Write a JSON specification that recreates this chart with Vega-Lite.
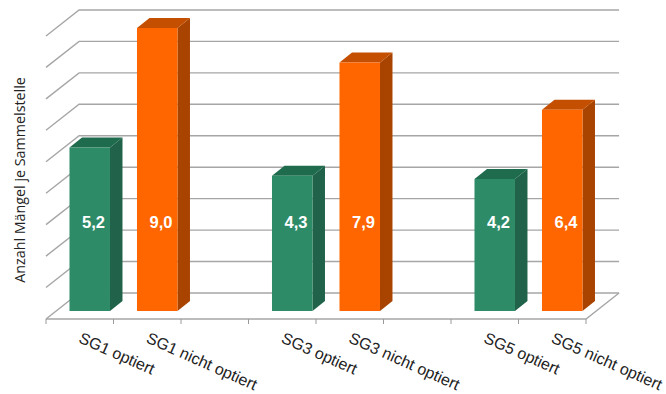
{
  "$schema": "https://vega.github.io/schema/vega-lite/v6.json",
  "width": 607.5,
  "height": 314.5,
  "autosize": "none",
  "padding": {"left": 46, "top": 4.5, "right": 12.5, "bottom": 75},
  "background": "white",
  "config": {"view": {"stroke": null}},
  "encoding": {
    "x": {"field": "x", "type": "quantitative", "scale": {"domain": [0, 9], "nice": false, "zero": false}, "axis": null},
    "y": {
      "field": "y",
      "type": "quantitative",
      "scale": {"domain": [0, 10], "nice": false, "zero": false},
      "axis": {
        "title": "Anzahl Mängel je Sammelstelle",
        "labels": false,
        "ticks": false,
        "domain": false,
        "grid": false,
        "titleFont": "Open Sans",
        "titleFontSize": 14.3,
        "titleFontWeight": "normal",
        "titleColor": "#222222",
        "titleX": -26,
        "titleY": 175,
        "titleAngle": 270,
        "titleAlign": "center",
        "titleBaseline": "middle"
      }
    }
  },
  "layer": [
    {
      "description": "Wall and side-wall gridlines at each level of the scale",
      "data": {"values": [{"level": 0}, {"level": 1}, {"level": 2}, {"level": 3}, {"level": 4}, {"level": 5}, {"level": 6}, {"level": 7}, {"level": 8}, {"level": 9}]},
      "transform": [
        {"calculate": "[0, 0.49, 8.49]", "as": "x"},
        {"calculate": "[datum.level, datum.level + 0.827, datum.level + 0.827]", "as": "y"},
        {"calculate": "[0, 1, 2]", "as": "step"},
        {"flatten": ["x", "y", "step"]}
      ],
      "mark": {"type": "line", "color": "#a6a6a6", "strokeWidth": 1.4, "interpolate": "linear"},
      "encoding": {"detail": {"field": "level"}, "order": {"field": "step", "type": "quantitative"}}
    },
    {
      "description": "Front and right edges of the floor",
      "data": {"values": [{"edge": "floor"}]},
      "transform": [
        {"calculate": "[0, 8, 8.49]", "as": "x"},
        {"calculate": "[0, 0, 0.827]", "as": "y"},
        {"calculate": "[0, 1, 2]", "as": "step"},
        {"flatten": ["x", "y", "step"]}
      ],
      "mark": {"type": "line", "color": "#a6a6a6", "strokeWidth": 1.4},
      "encoding": {"order": {"field": "step", "type": "quantitative"}}
    },
    {
      "description": "Category tick marks under the floor",
      "data": {"values": [{"x": 0}, {"x": 1}, {"x": 2}, {"x": 3}, {"x": 4}, {"x": 5}, {"x": 6}, {"x": 7}, {"x": 8}]},
      "transform": [
        {"calculate": "0", "as": "y"},
        {"calculate": "-0.16", "as": "y2"}
      ],
      "mark": {"type": "rule", "color": "#9a9a9a", "strokeWidth": 1},
      "encoding": {"y2": {"field": "y2"}}
    },
    {
      "description": "Bars built from three faces; the geometry derives from each row's value and group",
      "data": {
        "name": "bars",
        "values": [
          {"label": "SG1 optiert", "sg": 1, "state": "optiert", "value": 5.2},
          {"label": "SG1 nicht optiert", "sg": 1, "state": "nicht optiert", "value": 9.0},
          {"label": "SG3 optiert", "sg": 3, "state": "optiert", "value": 4.3},
          {"label": "SG3 nicht optiert", "sg": 3, "state": "nicht optiert", "value": 7.9},
          {"label": "SG5 optiert", "sg": 5, "state": "optiert", "value": 4.2},
          {"label": "SG5 nicht optiert", "sg": 5, "state": "nicht optiert", "value": 6.4}
        ]
      },
      "transform": [
        {"calculate": "1.5 * (datum.sg - 1) + (datum.state === 'optiert' ? 0 : 1)", "as": "slot"},
        {"calculate": "datum.slot + 0.348", "as": "xl"},
        {"calculate": "datum.xl + 0.6", "as": "xr"},
        {"calculate": "datum.value + 0.254", "as": "top"}
      ],
      "layer": [
        {
          "description": "Right side face",
          "transform": [
            {"calculate": "[datum.xr, datum.xr + 0.185]", "as": "x"},
            {"calculate": "[datum.top, datum.top + 0.318]", "as": "y"},
            {"calculate": "[0.254, 0.572]", "as": "y2"},
            {"flatten": ["x", "y", "y2"]}
          ],
          "mark": {"type": "area", "orient": "vertical"},
          "encoding": {
            "y2": {"field": "y2"},
            "detail": {"field": "label"},
            "color": {"condition": {"test": "datum.state === 'optiert'", "value": "#20634a"}, "value": "#a84300"}
          }
        },
        {
          "description": "Top face",
          "transform": [
            {"calculate": "[datum.xl, datum.xl + 0.185, datum.xr, datum.xr + 0.185]", "as": "x"},
            {"calculate": "[datum.top, datum.top + 0.318, datum.top + 0.318, datum.top + 0.318]", "as": "y"},
            {"calculate": "[datum.top, datum.top, datum.top, datum.top + 0.318]", "as": "y2"},
            {"flatten": ["x", "y", "y2"]}
          ],
          "mark": {"type": "area", "orient": "vertical"},
          "encoding": {
            "y2": {"field": "y2"},
            "detail": {"field": "label"},
            "color": {"condition": {"test": "datum.state === 'optiert'", "value": "#1f6b4e"}, "value": "#c44f00"}
          }
        },
        {
          "description": "Front face",
          "transform": [
            {"calculate": "datum.xl", "as": "x"},
            {"calculate": "datum.top", "as": "y"},
            {"calculate": "0.254", "as": "y2"}
          ],
          "mark": {"type": "rect"},
          "encoding": {
            "x2": {"field": "xr"},
            "y2": {"field": "y2"},
            "color": {"condition": {"test": "datum.state === 'optiert'", "value": "#2e8b67"}, "value": "#ff6600"}
          }
        },
        {
          "description": "Value labels inside the bars",
          "transform": [
            {"calculate": "datum.xl + 0.355", "as": "x"},
            {"calculate": "3.05", "as": "y"},
            {"calculate": "replace(format(datum.value, '.1f'), '.', ',')", "as": "text"}
          ],
          "mark": {"type": "text", "font": "Liberation Sans", "fontWeight": "bold", "fontSize": 16.5, "color": "white", "align": "center", "baseline": "middle"},
          "encoding": {"text": {"field": "text"}}
        },
        {
          "description": "Slanted category labels below the floor",
          "transform": [
            {"calculate": "datum.slot + 0.47", "as": "x"},
            {"calculate": "0", "as": "y"}
          ],
          "mark": {"type": "text", "font": "Liberation Sans", "fontSize": 16, "color": "#222222", "align": "left", "baseline": "alphabetic", "angle": 24, "yOffset": 23},
          "encoding": {"text": {"field": "label"}}
        }
      ]
    }
  ]
}
